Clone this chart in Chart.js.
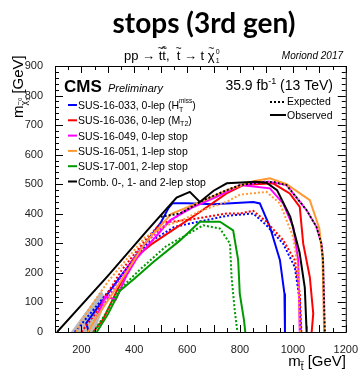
<!DOCTYPE html>
<html>
<head>
<meta charset="utf-8">
<script src="https://cdn.jsdelivr.net/npm/chart.js@4.4.1/dist/chart.umd.min.js"></script>
<style>
  html, body { margin: 0; padding: 0; background: #fff; }
  #wrap { width: 361px; height: 376px; }
</style>
</head>
<body>
<div id="wrap"><canvas id="c" width="361" height="376"></canvas></div>
<script>
// exclusion contours, [m_stop, m_lsp] in GeV
const blueObs = [[228,0],[218,30],[300,130],[400,250],[500,370],[530,420],[545,436],[600,436],[700,432],[850,440],[875,435],[913,356],[951,243],[968,130],[970,0]];
const blueExp = [[175,0],[250,80],[350,190],[450,300],[550,355],[610,367],[749,393],[850,401],[900,361],[963,299],[1007,220],[1026,107],[1030,0]];
const redObs = [[245,0],[280,40],[340,150],[400,250],[470,300],[535,339],[648,406],[749,469],[812,497],[925,503],[988,469],[1026,423],[1039,299],[1064,186],[1077,62],[1071,0]];
const redExp = [[200,0],[251,60],[352,209],[450,320],[503,370],[610,380],[749,401],[799,401],[850,410],[900,373],[963,311],[1007,243],[1026,130],[1032,0]];
const magObs = [[262,60],[290,120],[330,110],[370,190],[410,250],[459,300],[535,378],[623,423],[711,457],[800,497],[913,486],[963,435],[1001,356],[1020,243],[1026,0]];
const magExp = [[250,40],[330,160],[420,280],[500,350],[580,405],[680,450],[800,495],[900,510],[976,497],[1052,412],[1089,356],[1108,299],[1114,243],[1119,0]];
const orgObs = [[225,0],[250,40],[340,160],[440,300],[540,400],[650,440],[750,480],[850,510],[913,520],[976,500],[1064,446],[1100,350],[1112,250],[1116,100],[1118,0]];
const orgExp = [[180,0],[200,40],[300,170],[440,320],[520,360],[585,380],[650,410],[749,440],[800,465],[900,474],[951,435],[1001,322],[1020,209],[1026,17],[1027,0]];
const grnObs = [[258,0],[300,60],[346,140],[400,180],[470,235],[573,310],[648,373],[724,373],[774,344],[793,243],[799,130],[815,40],[820,0]];
const grnExp = [[245,0],[290,60],[340,140],[420,210],[520,290],[600,330],[661,361],[724,350],[762,299],[768,186],[780,73],[790,0]];
const combObs = [[108,0],[300,190],[450,345],[560,455],[610,474],[648,440],[700,478],[750,503],[860,508],[900,505],[940,480],[990,390],[1025,270],[1045,150],[1051,20],[1052,0]];
const combExp = [[500,390],[573,401],[661,446],[750,480],[800,497],[860,505],[924,508],[976,497],[1052,412],[1089,356],[1108,299],[1114,243],[1118,100],[1121,0]];
const grayBand = [[160,0],[250,0],[295,110],[275,140],[160,0]];

const LABELS = ['SUS-16-033, 0-lep (H', 'SUS-16-036, 0-lep (M', 'SUS-16-049, 0-lep stop', 'SUS-16-051, 1-lep stop', 'SUS-17-001, 2-lep stop', 'Comb. 0-, 1- and 2-lep stop'];
const COLORS = ['#0000ff', '#ff0000', '#ff00ff', '#ff9933', '#009900', '#000000'];
const X_TICKS = [200, 400, 600, 800, 1000, 1200];

const pts = a => a.map(p => ({x: p[0], y: p[1]}));

function curve(data, color, dashed){
    return {
        data: pts(data),
        showLine: true,
        borderColor: color,
        borderWidth: 2,
        borderDash: dashed ? [2, 2] : [],
        pointRadius: 0,
        fill: false,
        tension: 0
    };
}

const datasets = [
    curve(combObs, COLORS[5], false),
    curve(combExp, COLORS[5], true),
    curve(grnObs, COLORS[4], false),
    curve(grnExp, COLORS[4], true),
    curve(orgObs, COLORS[3], false),
    curve(orgExp, COLORS[3], true),
    curve(magObs, COLORS[2], false),
    curve(magExp, COLORS[2], true),
    curve(redObs, COLORS[1], false),
    curve(redExp, COLORS[1], true),
    curve(blueObs, COLORS[0], false),
    curve(blueExp, COLORS[0], true),
    {
        data: pts(grayBand),
        showLine: true,
        borderWidth: 0,
        borderColor: 'rgba(0,0,0,0)',
        backgroundColor: 'rgba(170,170,170,0.8)',
        pointRadius: 0,
        fill: 'shape'
    }
];

const F = 'Liberation Sans, Arial, sans-serif';

// letter with a tilde on top, returns advance width
function tilded(ctx, ch, x, y, size, bar){
    ctx.font = size + 'px ' + F;
    const w = ctx.measureText(ch).width;
    ctx.font = (size * 0.8) + 'px ' + F;
    const tw = ctx.measureText('~').width;
    ctx.fillText('~', x + (w - tw) / 2, y - size * 0.62);
    if (bar) ctx.fillRect(x + w * 0.1, y - size * 1.05, w * 0.8, 1);
    ctx.font = size + 'px ' + F;
    ctx.fillText(ch, x, y);
    return w;
}

function txt(ctx, s, x, y, size, style){
    ctx.font = (style ? style + ' ' : '') + size + 'px ' + F;
    ctx.fillText(s, x, y);
    return ctx.measureText(s).width;
}

// ROOT style frame with inward ticks
const frame = {
    id: 'frame',
    afterDatasetsDraw(chart){
        const {ctx, chartArea: a, scales: {x, y}} = chart;
        ctx.save();
        ctx.strokeStyle = '#000';
        ctx.lineWidth = 1;
        ctx.strokeRect(a.left + 0.5, a.top + 0.5, a.right - a.left, a.bottom - a.top);
        ctx.beginPath();
        for (let v = 100; v <= 1200; v += 50){
            const px = Math.round(x.getPixelForValue(v)) + 0.5;
            const len = v % 100 === 0 ? 7 : 4;
            ctx.moveTo(px, a.bottom); ctx.lineTo(px, a.bottom - len);
            ctx.moveTo(px, a.top); ctx.lineTo(px, a.top + len);
        }
        for (let v = 0; v <= 900; v += 20){
            const py = Math.round(y.getPixelForValue(v)) + 0.5;
            const len = v % 100 === 0 ? 8 : 4;
            ctx.moveTo(a.left, py); ctx.lineTo(a.left + len, py);
            ctx.moveTo(a.right, py); ctx.lineTo(a.right - len, py);
        }
        ctx.stroke();
        ctx.restore();
    },
    afterDraw(chart){
        const ctx = chart.ctx;
        ctx.save();
        ctx.fillStyle = '#000';
        ctx.textBaseline = 'alphabetic';
        ctx.textAlign = 'left';

        // title
        ctx.font = 'bold 28px Lato, sans-serif';
        ctx.textAlign = 'center';
        ctx.fillText('stops (3rd gen)', 204, 33);
        ctx.textAlign = 'left';

        // process line
        let x = 124;
        x += txt(ctx, 'pp \u2192 ', x, 60, 13);
        x += tilded(ctx, 't', x, 60, 13, false);
        x += tilded(ctx, 't', x, 60, 13, true);
        x += txt(ctx, ',  ', x, 60, 13);
        x += tilded(ctx, 't', x, 60, 13, false);
        x += txt(ctx, ' \u2192 t ', x, 60, 13);
        x += tilded(ctx, '\u03c7', x, 60, 13, false);
        txt(ctx, '1', x + 1, 63, 7);
        txt(ctx, '0', x + 1, 54, 7);

        ctx.textAlign = 'right';
        txt(ctx, 'Moriond 2017', 343, 59, 10, 'italic');
        ctx.textAlign = 'left';

        // lumi
        ctx.font = '14px ' + F;
        const a1 = ctx.measureText('35.9 fb').width;
        const a3 = ctx.measureText(' (13 TeV)').width;
        ctx.font = '9px ' + F;
        const a2 = ctx.measureText('-1').width;
        x = 333 - a1 - a2 - a3;
        x += txt(ctx, '35.9 fb', x, 90, 14);
        x += txt(ctx, '-1', x, 84, 9);
        txt(ctx, ' (13 TeV)', x, 90, 14);

        // CMS label
        txt(ctx, 'CMS', 64, 92, 17, 'bold');
        txt(ctx, 'Preliminary', 108, 92, 11, 'italic');

        // legend
        LABELS.forEach((t, i) => {
            const ly = 105 + i * 15.3;
            ctx.fillStyle = COLORS[i];
            ctx.fillRect(68, ly - 1, 9, 2);
            ctx.fillStyle = '#000';
            let w = txt(ctx, t, 78, ly + 4, 10.5);
            if (i === 0){
                txt(ctx, 'T', 78 + w, ly + 7, 7);
                w += txt(ctx, 'miss', 78 + w, ly - 2, 6.5);
                txt(ctx, ')', 78 + w, ly + 4, 10.5);
            }
            if (i === 1){
                w += txt(ctx, 'T2', 78 + w, ly + 6, 7);
                txt(ctx, ')', 78 + w, ly + 4, 10.5);
            }
        });

        // expected / observed
        for (let i = 0; i < 4; i++) ctx.fillRect(270 + i * 4, 101, 2, 2);
        ctx.fillRect(270, 114, 16, 2);
        txt(ctx, 'Expected', 287, 105, 10.5);
        txt(ctx, 'Observed', 287, 119, 10.5);

        // x axis title
        ctx.font = '15px ' + F;
        const wm = ctx.measureText('m').width;
        const wg = ctx.measureText(' [GeV]').width;
        ctx.font = '10px ' + F;
        const wt = ctx.measureText('t').width;
        x = 346 - wm - wt - wg;
        txt(ctx, 'm', x, 366, 15);
        tilded(ctx, 't', x + wm, 370, 10, false);
        txt(ctx, ' [GeV]', x + wm + wt, 366, 15);

        // y axis title
        ctx.translate(23, 118);
        ctx.rotate(-Math.PI / 2);
        txt(ctx, 'm', 0, 0, 15);
        const wc = tilded(ctx, '\u03c7', wm, 4, 9, false);
        txt(ctx, '1', wm + wc, 7, 5.5);
        txt(ctx, '0', wm + wc, -1, 5.5);
        txt(ctx, ' [GeV]', wm + wc + 3, 0, 15);
        ctx.restore();
    }
};

new Chart(document.getElementById('c'), {
    type: 'scatter',
    data: { datasets: datasets },
    options: {
        responsive: false,
        animation: false,
        layout: { padding: { left: 0, top: 66, right: 15, bottom: 0 } },
        plugins: { legend: { display: false }, tooltip: { enabled: false } },
        scales: {
            x: {
                type: 'linear', min: 100, max: 1200,
                afterFit: s => { s.height = 44; },
                afterBuildTicks: s => { s.ticks = X_TICKS.map(v => ({value: v})); },
                grid: { display: false },
                border: { display: false },
                ticks: { color: '#222', padding: 3, maxRotation: 0, autoSkip: false, callback: v => String(v), font: { family: 'Liberation Sans', size: 11 } }
            },
            y: {
                type: 'linear', min: 0, max: 900,
                afterFit: s => { s.width = 55; },
                grid: { display: false },
                border: { display: false },
                ticks: { color: '#222', stepSize: 100, padding: 4, callback: v => String(v), font: { family: 'Liberation Sans', size: 11 } }
            }
        }
    },
    plugins: [frame]
});
</script>
</body>
</html>
